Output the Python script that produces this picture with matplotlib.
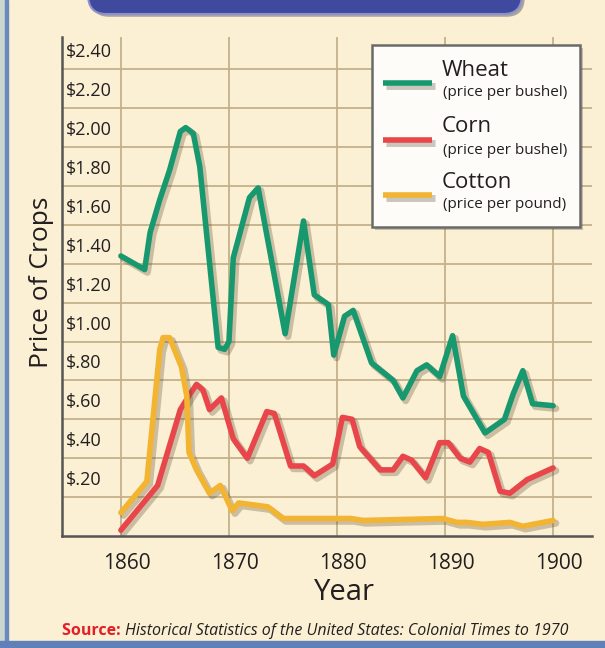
"""
Crop prices 1860-1900 (wheat, corn, cotton) redrawn as a textbook-style chart.

Output:
    out.png  (605 x 648 px)
"""

import matplotlib
matplotlib.use("Agg")

import matplotlib.pyplot as plt
import matplotlib.patheffects as pe
from matplotlib.lines import Line2D
from matplotlib.patches import Rectangle, FancyBboxPatch
from matplotlib.transforms import ScaledTranslation


# ---------------------------------------------------------------------
# Data (year, dollars)
# ---------------------------------------------------------------------
WHEAT_YEARS = [
    1860.0, 1862.2, 1862.7, 1863.6, 1864.5, 1865.5, 1866.0, 1866.7, 1867.3,
    1869.0, 1869.6, 1870.0, 1870.4, 1871.9, 1872.7, 1875.2, 1876.9, 1877.9,
    1879.2, 1879.7, 1880.7, 1881.5, 1883.2, 1885.2, 1886.1, 1887.4, 1888.3,
    1889.5, 1890.7, 1891.7, 1893.7, 1895.5, 1896.3, 1897.2, 1898.1, 1900.0,
]
WHEAT_PRICES = [
    1.44, 1.37, 1.56, 1.73, 1.88, 2.08, 2.10, 2.07, 1.90,
    0.97, 0.96, 1.00, 1.43, 1.74, 1.79, 1.04, 1.62, 1.24,
    1.19, 0.93, 1.13, 1.16, 0.89, 0.80, 0.71, 0.85, 0.88,
    0.82, 1.03, 0.72, 0.53, 0.60, 0.73, 0.85, 0.68, 0.67,
]

CORN_YEARS = [
    1860.0, 1863.4, 1865.5, 1866.4, 1867.0, 1867.6, 1868.2, 1869.3, 1870.4,
    1871.7, 1873.5, 1874.2, 1875.7, 1876.9, 1877.9, 1879.6, 1880.5, 1881.4,
    1882.1, 1884.0, 1885.2, 1886.1, 1886.9, 1888.2, 1889.5, 1890.3, 1891.4,
    1892.3, 1893.2, 1894.0, 1895.1, 1896.0, 1897.6, 1900.0,
]
CORN_PRICES = [
    0.03, 0.26, 0.65, 0.73, 0.78, 0.75, 0.65, 0.71, 0.50,
    0.40, 0.64, 0.63, 0.36, 0.36, 0.31, 0.37, 0.61, 0.60,
    0.46, 0.34, 0.34, 0.41, 0.39, 0.30, 0.48, 0.48, 0.40,
    0.38, 0.45, 0.43, 0.23, 0.22, 0.29, 0.35,
]

COTTON_YEARS = [
    1860.0, 1862.4, 1863.6, 1863.9, 1864.5, 1865.6, 1866.1, 1866.3, 1867.0,
    1868.2, 1869.2, 1870.3, 1870.9, 1873.6, 1875.0, 1881.3, 1882.4, 1889.8,
    1891.1, 1892.0, 1893.5, 1896.0, 1897.2, 1900.0,
]
COTTON_PRICES = [
    0.12, 0.28, 0.96, 1.02, 1.02, 0.87, 0.72, 0.43, 0.34,
    0.22, 0.26, 0.13, 0.17, 0.15, 0.09, 0.09, 0.08, 0.09,
    0.07, 0.07, 0.06, 0.07, 0.05, 0.08,
]

SERIES_NAMES = ["Wheat", "Corn", "Cotton"]
SERIES_UNITS = ["(price per bushel)", "(price per bushel)", "(price per pound)"]

Y_TICKS = [0.2, 0.4, 0.6, 0.8, 1.0, 1.2, 1.4, 1.6, 1.8, 2.0, 2.2, 2.4]
Y_TICK_LABELS = [
    "$.20", "$.40", "$.60", "$.80", "$1.00", "$1.20",
    "$1.40", "$1.60", "$1.80", "$2.00", "$2.20", "$2.40",
]
X_TICKS = [1860, 1870, 1880, 1890, 1900]
X_TICK_LABELS = ["1860", "1870", "1880", "1890", "1900"]

SOURCE_TEXT = "Historical Statistics of the United States: Colonial Times to 1970"


# ---------------------------------------------------------------------
# Look
# ---------------------------------------------------------------------
FIG_W, FIG_H, DPI = 605, 648, 100

PAPER = "#FBF0D3"
GRID = "#C4B18C"
SPINE = "#555555"
TEXT = "#231F20"
COLORS = ["#17986E", "#E8464B", "#F2B431"]
FONT = ["Open Sans", "DejaVu Sans"]


def px(x: float, y: float) -> tuple[float, float]:
    """Pixel position (from top-left) to figure fraction."""
    return x / FIG_W, 1 - y / FIG_H


def line_effects(width: float) -> list:
    return [
        pe.SimpleLineShadow(offset=(2, -2), shadow_color="#5a4a30",
                            alpha=0.3, linewidth=width + 1),
        pe.Normal(),
    ]


def draw_frame(fig) -> None:
    """Blue panel edges and the (cut off) title banner."""
    fig.patches.append(Rectangle((0, 0), 5 / FIG_W, 1,
                                 transform=fig.transFigure,
                                 color="#C9D7CF", zorder=0))
    fig.patches.append(Rectangle((5 / FIG_W, 0), 3 / FIG_W, 1,
                                 transform=fig.transFigure,
                                 color="#6C89BD", zorder=0))
    fig.patches.append(Rectangle((0, 0), 1, 7 / FIG_H,
                                 transform=fig.transFigure,
                                 color="#5F80B8", zorder=0))

    x0, y0 = px(88, 14)
    banner = FancyBboxPatch(
        (x0, y0), (522 - 88) / FIG_W, 40 / FIG_H,
        boxstyle="round,pad=0,rounding_size=0.03",
        transform=fig.transFigure, facecolor="#3F4A9E",
        edgecolor="#8C90CF", linewidth=1.5, zorder=1,
        path_effects=[pe.SimplePatchShadow(offset=(2, -2), alpha=0.35), pe.Normal()],
    )
    fig.patches.append(banner)


def draw_legend(fig) -> None:
    """Hand-made legend box: thick swatch, name, and unit line."""
    left, top, right, bottom = 372, 45, 580, 227
    x0, y0 = px(left, bottom)
    box = Rectangle((x0, y0), (right - left) / FIG_W, (bottom - top) / FIG_H,
                    transform=fig.transFigure, facecolor="#FDFCF8",
                    edgecolor="#6A6A6A", linewidth=1.8, zorder=5,
                    path_effects=[pe.SimplePatchShadow(offset=(2, -2), alpha=0.3),
                                  pe.Normal()])
    fig.patches.append(box)

    rows = [83, 140, 195]
    for name, unit, color, y in zip(SERIES_NAMES, SERIES_UNITS, COLORS, rows):
        (sx0, sy), (sx1, _) = px(383, y), px(432, y)
        fig.add_artist(Line2D([sx0, sx1], [sy, sy], transform=fig.transFigure,
                              color=color, linewidth=4, solid_capstyle="butt",
                              zorder=6, path_effects=line_effects(4)))
        tx, ty = px(442, y - 13)
        fig.text(tx, ty, name, fontsize=16, color=TEXT, family=FONT,
                 va="center", ha="left", zorder=6)
        ux, uy = px(443, y + 10)
        fig.text(ux, uy, unit, fontsize=11, color=TEXT, family=FONT,
                 va="center", ha="left", zorder=6)


def main() -> None:
    plt.rcParams["font.family"] = FONT

    fig = plt.figure(figsize=(FIG_W / DPI, FIG_H / DPI), dpi=DPI, facecolor=PAPER)
    draw_frame(fig)

    # plot area: x 62..592 px, y 37..536 px
    ax = fig.add_axes([62 / FIG_W, 1 - 536 / FIG_H, 530 / FIG_W, 499 / FIG_H])
    ax.set_facecolor(PAPER)
    ax.set_xlim(1854.55, 1903.6)
    ax.set_ylim(0, 2.566)

    for spine in ("top", "right"):
        ax.spines[spine].set_visible(False)
    for spine in ("left", "bottom"):
        ax.spines[spine].set_color(SPINE)
        ax.spines[spine].set_linewidth(1.8)
        ax.spines[spine].set_zorder(4)

    # grid: every 20 cents, every decade
    for yv in Y_TICKS:
        ax.axhline(yv, color=GRID, linewidth=1.3, zorder=1)
    for xv in X_TICKS:
        ax.axvline(xv, color=GRID, linewidth=1.3, zorder=1)

    all_years = [WHEAT_YEARS, CORN_YEARS, COTTON_YEARS]
    all_prices = [WHEAT_PRICES, CORN_PRICES, COTTON_PRICES]
    for years, prices, color in zip(all_years, all_prices, COLORS):
        ax.plot(years, prices, color=color, linewidth=4.0,
                solid_joinstyle="round", solid_capstyle="round", zorder=3,
                path_effects=line_effects(4.0))

    # y labels sit inside the plot, just above their grid line
    ax.set_yticks(Y_TICKS)
    ax.set_yticklabels(Y_TICK_LABELS)
    ax.tick_params(axis="y", length=0, pad=-3, labelsize=13, labelcolor=TEXT)
    up = ScaledTranslation(0, 19 / DPI, fig.dpi_scale_trans)
    for lab in ax.get_yticklabels():
        lab.set_horizontalalignment("left")
        lab.set_transform(lab.get_transform() + up)

    ax.set_xticks(X_TICKS)
    ax.set_xticklabels(X_TICK_LABELS)
    ax.tick_params(axis="x", length=0, pad=12, labelsize=15, labelcolor=TEXT)
    right = ScaledTranslation(6 / DPI, 0, fig.dpi_scale_trans)
    for lab in ax.get_xticklabels():
        lab.set_transform(lab.get_transform() + right)

    ax.set_xlabel("Year", fontsize=21, color=TEXT)
    ax.xaxis.set_label_coords((344 - 62) / 530, (536 - 593) / 499)
    ax.xaxis.label.set_verticalalignment("center")
    ax.set_ylabel("Price of Crops", fontsize=19, color=TEXT)
    ax.yaxis.set_label_coords((42 - 62) / 530, (536 - 282) / 499)
    ax.yaxis.label.set_verticalalignment("center")

    draw_legend(fig)

    sx, sy = px(62, 631)
    src = fig.text(sx, sy, "Source: ", fontsize=11.5, color="#E31E26",
                   fontweight="bold", family=FONT, va="center", ha="left")
    fig.canvas.draw()
    bb = src.get_window_extent()
    fig.text(bb.x1 / FIG_W, sy, SOURCE_TEXT, fontsize=11.5, color=TEXT,
             fontstyle="italic", family=FONT, va="center", ha="left")

    fig.savefig("out.png", dpi=DPI, facecolor=PAPER)
    plt.close(fig)


if __name__ == "__main__":
    main()
